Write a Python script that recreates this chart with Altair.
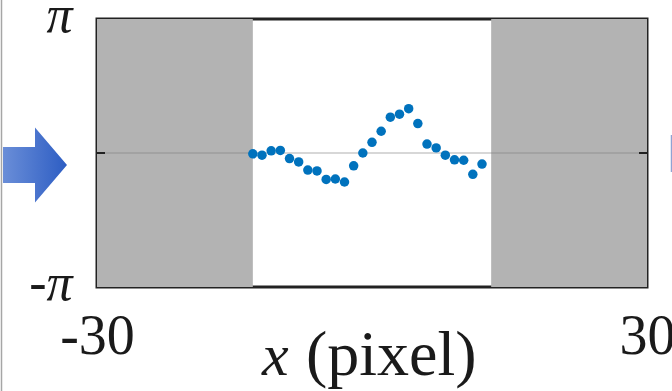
import altair as alt
import pandas as pd
import numpy as np

PI = float(np.pi)

# ---- data ----
x_vals = list(range(-13, 13))
phase = [-0.02, -0.05, 0.05, 0.06, -0.13, -0.21, -0.40, -0.42, -0.62, -0.61,
         -0.68, -0.30, 0.00, 0.25, 0.51, 0.84, 0.91, 1.04, 0.69, 0.21,
         0.12, -0.05, -0.16, -0.17, -0.50, -0.26]
mask_start = [-30, 13]
mask_end = [-13, 30]
x_ticks = [-30, 30]
y_ticks = [-PI, 0, PI]
zero_line = [0]

W, H = 550, 268
SERIF = "Liberation Serif"

xscale = alt.Scale(domain=[-30, 30], nice=False, zero=False)
yscale = alt.Scale(domain=[-PI, PI], nice=False, zero=False)

xaxis = alt.Axis(values=x_ticks, title=None, grid=False, domain=False, ticks=False,
                 labelFont=SERIF, labelFontSize=56, labelColor="#1a1a1a",
                 labelPadding=66, labelBaseline="alphabetic", labelFlush=False,
                 labelOverlap=False,
                 labelExpr="datum.value < 0 ? '-' + abs(datum.value) : '' + datum.value")
yaxis = alt.Axis(values=y_ticks, title=None, grid=False, domain=False, ticks=False,
                 labelFont=SERIF, labelFontSize=52, labelFontStyle="italic",
                 labelColor="#1a1a1a", labelPadding=25, labelBaseline="alphabetic",
                 labelOffset=12, labelFlush=False, labelOverlap=False,
                 labelExpr="datum.value > 1 ? 'π' : (datum.value < -1 ? '-π' : '')")

pts = pd.DataFrame({"x": x_vals, "phase": phase})
masks = pd.DataFrame({"x0": mask_start, "x1": mask_end})
zdf = pd.DataFrame({"y": zero_line})

mask_layer = alt.Chart(masks).mark_rect(color="#b3b3b3").encode(
    x=alt.X("x0:Q", scale=xscale, axis=xaxis),
    x2="x1:Q",
    y=alt.value(0), y2=alt.value(H),
)

mid_line = alt.Chart(zdf).mark_rule(color="#7a7a7a", opacity=0.3, strokeWidth=2).encode(
    y=alt.Y("y:Q", scale=yscale, axis=yaxis),
    x=alt.value(0), x2=alt.value(W),
)

tick_l = alt.Chart(zdf).mark_rule(color="#222222", strokeWidth=2).encode(
    y=alt.Y("y:Q", scale=yscale, axis=yaxis),
    x=alt.value(0), x2=alt.value(8),
)
tick_r = alt.Chart(zdf).mark_rule(color="#222222", strokeWidth=2).encode(
    y=alt.Y("y:Q", scale=yscale, axis=yaxis),
    x=alt.value(W - 8), x2=alt.value(W),
)

points = alt.Chart(pts).mark_circle(color="#0072BD", size=90, opacity=1).encode(
    x=alt.X("x:Q", scale=xscale, axis=xaxis),
    y=alt.Y("phase:Q", scale=yscale, axis=yaxis),
)

lab_x = alt.Chart().mark_text(text="x", font=SERIF, fontSize=60, fontStyle="italic",
                              align="left", baseline="alphabetic", color="#1a1a1a").encode(
    x=alt.value(165), y=alt.value(356))
lab_px = alt.Chart().mark_text(text="(pixel)", font=SERIF, fontSize=64,
                               align="left", baseline="alphabetic", color="#1a1a1a").encode(
    x=alt.value(209), y=alt.value(356))

arrow_path = "M -0.853 -0.48 L 0 -0.48 L 0 -1 L 0.853 0 L 0 1 L 0 0.48 L -0.853 0.48 Z"
grad = alt.LinearGradient(gradient="linear",
                          stops=[alt.GradientStop(color="#6a8ed8", offset=0),
                                 alt.GradientStop(color="#2d5dc3", offset=1)],
                          x1=0, x2=1, y1=0, y2=0)
arrow = alt.Chart().mark_point(shape=arrow_path, size=5625, filled=True, color=grad,
                               opacity=1, strokeWidth=0).encode(
    x=alt.value(-62), y=alt.value(146))

left_line = alt.Chart().mark_rule(color="#a6a6a6", strokeWidth=1.5).encode(
    x=alt.value(-95.5), y=alt.value(-19), y2=alt.value(372))
right_line = alt.Chart().mark_rule(color="#8fa3d3", strokeWidth=1.5).encode(
    x=alt.value(574.5), y=alt.value(116), y2=alt.value(153))

chart = alt.layer(
    mask_layer, mid_line, tick_l, tick_r, points, lab_x, lab_px, arrow, left_line, right_line
).properties(
    width=W, height=H,
    autosize=alt.AutoSizeParams(type="none"),
    padding={"left": 97, "top": 19, "right": 25, "bottom": 104},
    background="white",
).configure_view(stroke="#222222", strokeWidth=3)

chart.save("out.html", embed_options={"renderer": "svg", "actions": False})
